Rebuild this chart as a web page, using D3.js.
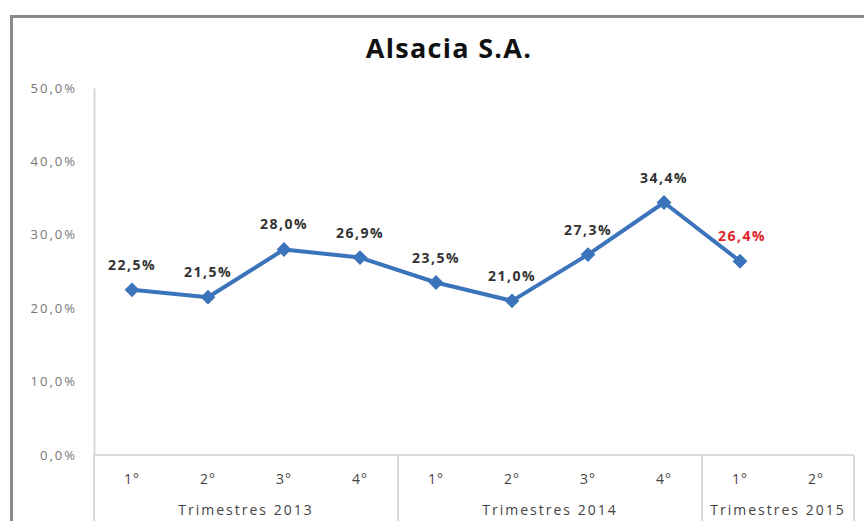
<!DOCTYPE html>
<html><head><meta charset="utf-8">
<script src="https://cdn.jsdelivr.net/npm/d3@7/dist/d3.min.js"></script>
<style>body{margin:0;background:#fff}svg{display:block}</style>
</head><body>
<svg id="c" width="864" height="521"></svg>
<script>
const title = "Alsacia S.A.";
const quarters = ["1°","2°","3°","4°","1°","2°","3°","4°","1°","2°"];
const years = ["Trimestres 2013","Trimestres 2014","Trimestres 2015"];
const yearSpan = [4,4,2];
const values = [22.5,21.5,28.0,26.9,23.5,21.0,27.3,34.4,26.4,null];
const yTicks = [0,10,20,30,40,50];

const svg = d3.select("#c");
const font = "'Open Sans', 'Liberation Sans', sans-serif";
const W=864,H=521;
// outer frame
svg.append("path").attr("d","M11.5,521 L11.5,16.5 L866,16.5").attr("fill","none").attr("stroke","#8a8a8a").attr("stroke-width",3);

const x0=94,x1=854,yTop=88,yBot=455;
const x = d3.scaleBand().domain(d3.range(quarters.length)).range([x0,x1]);
const y = d3.scaleLinear().domain([0,50]).range([yBot,yTop]);
const fmt = v => v.toFixed(1).replace(".",",")+"%";

svg.append("text").attr("x",449).attr("y",58).attr("text-anchor","middle")
  .attr("font-family",font).attr("font-weight","bold").attr("font-size",27).attr("letter-spacing",1.3)
  .attr("fill","#111").text(title);

// y axis
const ya = svg.append("g").attr("transform",`translate(${x0},0)`)
  .call(d3.axisLeft(y).tickValues(yTicks).tickSize(0).tickPadding(17).tickFormat(v=>v.toFixed(1).replace(".",",")+"%"));
ya.select(".domain").attr("stroke","#d9d9d9").attr("stroke-width",2);
ya.selectAll("text").attr("font-family",font).attr("font-size",13).attr("letter-spacing",2).attr("fill","#777");

// x axis line
svg.append("line").attr("x1",x0).attr("x2",x1).attr("y1",yBot).attr("y2",yBot).attr("stroke","#d9d9d9").attr("stroke-width",2);
// group dividers
let acc=0; const bounds=[0];
yearSpan.forEach(s=>{acc+=s;bounds.push(acc);});
bounds.forEach(b=>{
  const xx = b<quarters.length ? x(b) : x1;
  svg.append("line").attr("x1",xx).attr("x2",xx).attr("y1",yBot).attr("y2",H).attr("stroke","#d9d9d9").attr("stroke-width",2);
});
svg.selectAll(".q").data(quarters).join("text").attr("class","q")
  .attr("x",(d,i)=>x(i)+x.bandwidth()/2).attr("y",484).attr("text-anchor","middle")
  .attr("font-family",font).attr("font-size",14).attr("letter-spacing",1).attr("fill","#444").text(d=>d);
years.forEach((t,i)=>{
  const a = x(bounds[i]); const b = bounds[i+1]<quarters.length? x(bounds[i+1]) : x1;
  svg.append("text").attr("x",(a+b)/2).attr("y",515).attr("text-anchor","middle")
    .attr("font-family",font).attr("font-size",14).attr("letter-spacing",2).attr("fill","#444").text(t);
});

const pts = values.map((v,i)=>({i,v})).filter(d=>d.v!=null);
const cx = d=>x(d.i)+x.bandwidth()/2;
const line = d3.line().x(cx).y(d=>y(d.v));
svg.append("path").datum(pts).attr("d",line).attr("fill","none").attr("stroke","#3b74bb").attr("stroke-width",4).attr("stroke-linejoin","round");
svg.selectAll(".m").data(pts).join("path").attr("class","m")
  .attr("transform",d=>`translate(${cx(d)},${y(d.v)}) rotate(45)`)
  .attr("d",d3.symbol(d3.symbolSquare,110)).attr("fill","#3b74bb");
svg.selectAll(".lab").data(pts).join("text").attr("class","lab")
  .attr("x",d=>cx(d) + (d.i===8?2:0)).attr("y",d=>y(d.v)-20)
  .attr("text-anchor","middle").attr("font-family",font).attr("font-weight","bold").attr("font-size",14).attr("letter-spacing",1.5)
  .attr("fill",d=>d.i===8?"#e0242a":"#333").text(d=>fmt(d.v));
</script>
</body></html>
